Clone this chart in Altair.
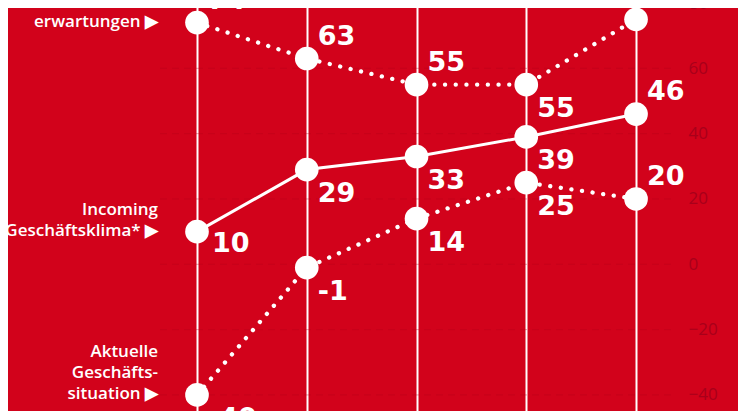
import altair as alt
import pandas as pd

# ---- data ----
periods = [0, 1, 2, 3, 4]
erwartungen = [74, 63, 55, 55, 75]
klima = [10, 29, 33, 39, 46]
situation = [-40, -1, 14, 25, 20]

series_keys = ["erwartungen", "klima", "situation"]
series_values = {"erwartungen": erwartungen, "klima": klima, "situation": situation}
series_names = {
    "erwartungen": "Geschäfts-\nerwartungen ▶",
    "klima": "Incoming\nGeschäftsklima* ▶",
    "situation": "Aktuelle\nGeschäfts-\nsituation ▶",
}
series_dash = {"erwartungen": "dotted", "klima": "solid", "situation": "dotted"}
label_side = {
    "erwartungen": ["above", "above", "above", "below", "above"],
    "klima": ["right", "below", "below", "below", "above"],
    "situation": ["below", "below", "below", "below", "above"],
}
y_ticks = [80, 60, 40, 20, 0, -20, -40]

# ---- tables ----
rows = []
for k in series_keys:
    for i, p in enumerate(periods):
        v = series_values[k][i]
        rows.append({"series": k, "x": p, "y": v, "label": str(v),
                     "side": label_side[k][i], "style": series_dash[k]})
df = pd.DataFrame(rows)
first = pd.DataFrame([{"series": k, "x": periods[0], "y": series_values[k][0],
                       "name": series_names[k],
                       "nlines": series_names[k].count("\n") + 1} for k in series_keys])
grid_df = pd.DataFrame({"y": y_ticks})

RED = "#d2021b"
DARK = "#a8001a"

W, H = 730, 403
xscale = alt.Scale(domain=[-1.722, 4.929], nice=False, zero=False)
yscale = alt.Scale(domain=[-50, 80], range=[419.6, -5.0], nice=False, zero=False)
xaxis = alt.Axis(values=periods, grid=True, gridColor="white", gridWidth=2,
                 gridOpacity=1, labels=False, ticks=False, domain=False, title=None)
yaxis = alt.Axis(orient="right", values=y_ticks, grid=False, ticks=False, domain=False,
                 offset=-50, labelPadding=0, labelAlign="left", labelColor=DARK,
                 labelFont="Open Sans", labelFontSize=17, labelFlush=False,
                 labelOverlap=False, title=None)
X = alt.X("x:Q", scale=xscale, axis=xaxis)
Y = alt.Y("y:Q", scale=yscale, axis=yaxis)

grid = alt.Chart(grid_df).mark_rule(color="#b3001a", strokeDash=[7, 5], strokeWidth=1,
                                    opacity=0.35).encode(
    y=Y, x=alt.value(152), x2=alt.value(665))

base = alt.Chart(df)
solid = base.transform_filter("datum.style == 'solid'").mark_line(
    color="white", strokeWidth=3).encode(x=X, y=Y, detail="series:N")
dotted = base.transform_filter("datum.style == 'dotted'").mark_line(
    color="white", strokeWidth=4.3, strokeDash=[0.1, 10.6], strokeCap="round").encode(
    x=X, y=Y, detail="series:N")
points = base.mark_circle(color="white", opacity=1, size=560).encode(x=X, y=Y)

VFONT = "DejaVu Sans"
VSIZE = 27
lab_above = base.transform_filter("datum.side == 'above'").mark_text(
    align="left", baseline="alphabetic", dx=11, dy=-14, font=VFONT, fontSize=VSIZE,
    fontWeight="bold", color="white").encode(x=X, y=Y, text="label:N")
lab_below = base.transform_filter("datum.side == 'below'").mark_text(
    align="left", baseline="alphabetic", dx=11, dy=32, font=VFONT, fontSize=VSIZE,
    fontWeight="bold", color="white").encode(x=X, y=Y, text="label:N")
lab_right = base.transform_filter("datum.side == 'right'").mark_text(
    align="left", baseline="alphabetic", dx=15, dy=20, font=VFONT, fontSize=VSIZE,
    fontWeight="bold", color="white").encode(x=X, y=Y, text="label:N")

NFONT = "Open Sans"
names2 = alt.Chart(first).transform_filter("datum.nlines == 2").mark_text(
    align="right", baseline="alphabetic", dx=-39, dy=-17, font=NFONT, fontSize=17,
    fontWeight=600, lineHeight=21, lineBreak="\n", color="white").encode(
    x=X, y=Y, text="name:N")
names3 = alt.Chart(first).transform_filter("datum.nlines == 3").mark_text(
    align="right", baseline="alphabetic", dx=-39, dy=-38, font=NFONT, fontSize=17,
    fontWeight=600, lineHeight=21, lineBreak="\n", color="white").encode(
    x=X, y=Y, text="name:N")

chart = alt.layer(grid, solid, dotted, points, lab_above, lab_below, lab_right,
                  names2, names3).properties(
    width=W, height=H, padding=0, background=RED,
    autosize=alt.AutoSizeParams(type="none"),
).configure_view(stroke=None)

chart.save("out.html", embed_options={"renderer": "svg", "actions": False})
